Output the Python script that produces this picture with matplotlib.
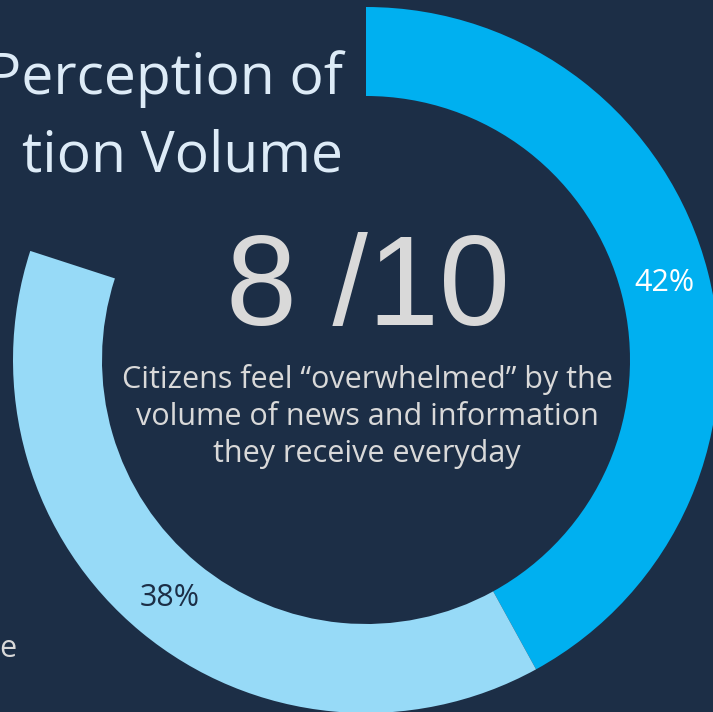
import matplotlib.pyplot as plt

# donut shares (fractions of a full circle, rest stays empty)
shares = [0.42, 0.38]
colors = ['#00b0f0', '#97daf7']
label_colors = ['#ffffff', '#1c2e46']

title_lines = ['Perception of', 'tion Volume']
big_stat = '8 /10'
caption_lines = ['Citizens feel \u201coverwhelmed\u201d by the',
                 'volume of news and information',
                 'they receive everyday']

bg = '#1c2e46'
W, H = 713, 712

fig = plt.figure(figsize=(W / 100, H / 100), dpi=100, facecolor=bg)
ax = fig.add_axes([0, 0, 1, 1])
ax.set_facecolor(bg)

# ring: centre (366, 360) in pixel coords, y flipped for data space
cx, cy = 366, H - 360
R = 353
wedges, texts, autotexts = ax.pie(
    shares, normalize=False, colors=colors, startangle=90, counterclock=False,
    center=(cx, cy), radius=R, wedgeprops=dict(width=89, linewidth=0),
    autopct='%.0f%%', pctdistance=0.874, frame=True,
    textprops=dict(fontsize=22, family='Open Sans'))
for t, c in zip(autotexts, label_colors):
    t.set_color(c)
ax.set_xlim(0, W)
ax.set_ylim(0, H)
ax.set_aspect('equal')
ax.axis('off')

# title (cut off on the left, as in the slide)
for line, base in zip(title_lines, [94, 172]):
    ax.text(343, H - base, line, ha='right', va='baseline',
            fontsize=41, color='#ddebf7', family='Open Sans')

# stray fragment of another text block
ax.text(-1, H - 657, 'e', ha='left', va='baseline',
        fontsize=22, color='#d9d9d9', family='Open Sans')

# centre statistic
ax.text(368, H - 325, big_stat, ha='center', va='baseline',
        fontsize=92, color='#d9d9d9', family='Liberation Sans')
for line, base in zip(caption_lines, [388, 425, 462]):
    ax.text(367, H - base, line, ha='center', va='baseline',
            fontsize=22, color='#d9d9d9', family='Open Sans')

fig.savefig('out.png', dpi=100, facecolor=bg)
